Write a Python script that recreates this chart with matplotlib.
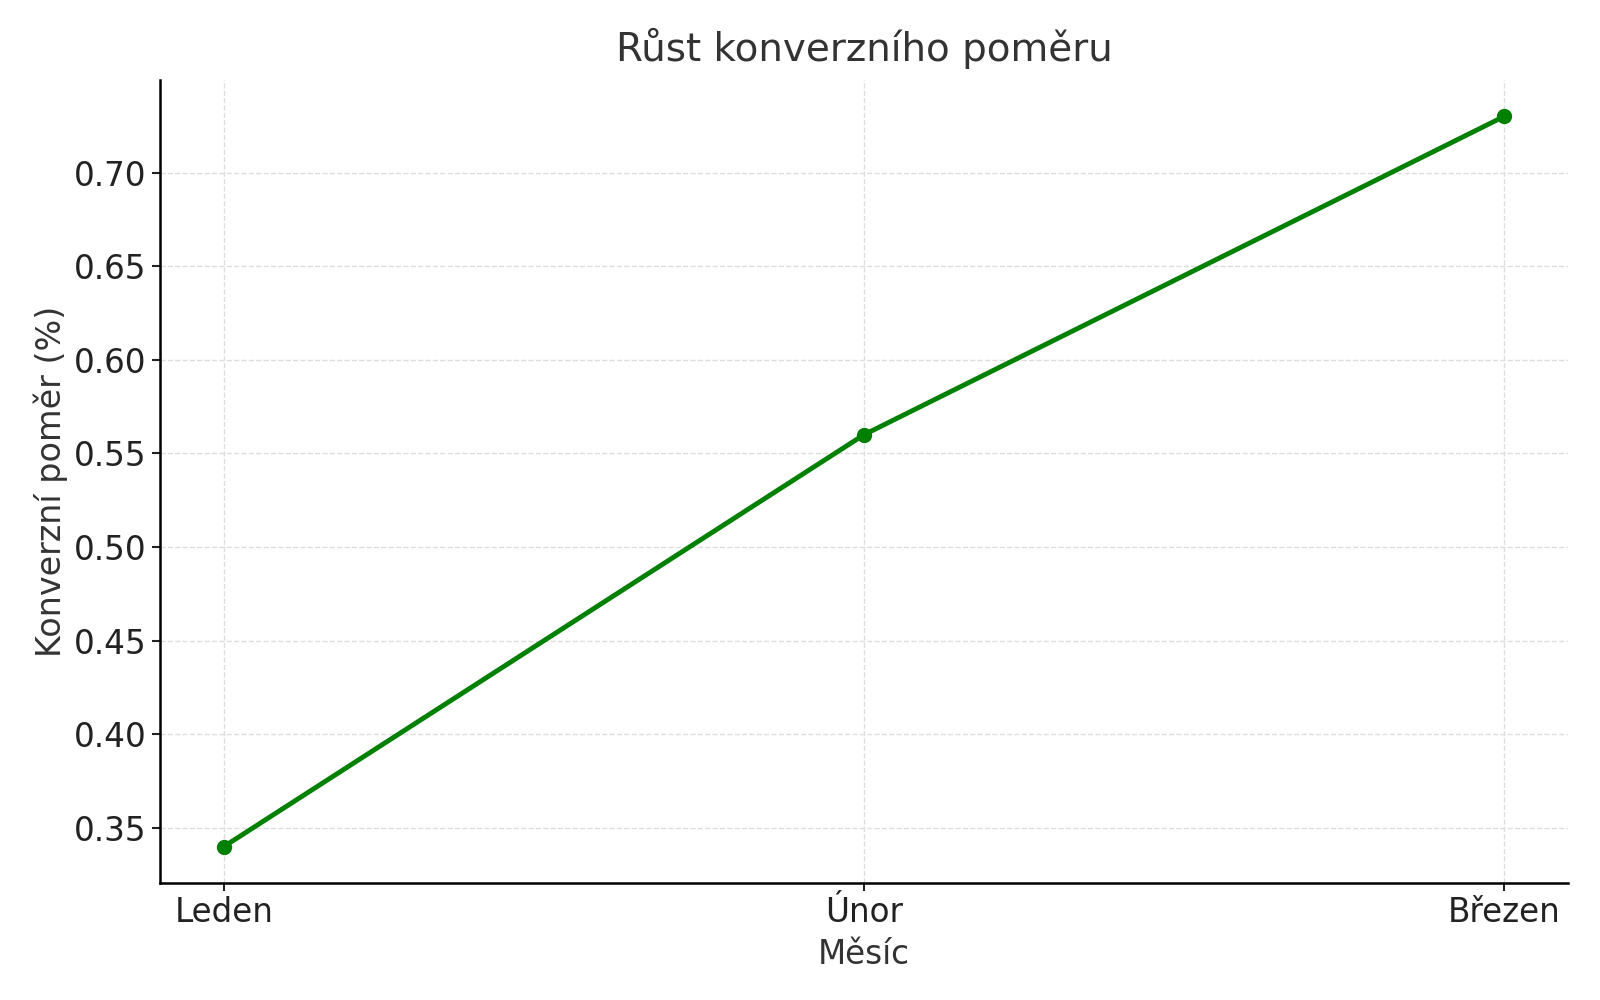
import matplotlib
matplotlib.use("Agg")
import matplotlib.pyplot as plt

# Data
mesice = ["Leden", "Únor", "Březen"]
konverze = [0.34, 0.56, 0.73]

fig, ax = plt.subplots(figsize=(16, 10), dpi=100)

ax.plot(mesice, konverze, color="green", marker="o", linewidth=3.5, markersize=10)

ax.set_title("Růst konverzního poměru", fontsize=28, color="#333333", pad=14)
ax.set_xlabel("Měsíc", fontsize=23.5, color="#333333", labelpad=6)
ax.set_ylabel("Konverzní poměr (%)", fontsize=24, color="#333333")
ax.tick_params(axis="both", labelsize=23.5, colors="#222222", length=6, width=1.5)

ax.grid(True, linestyle="--", color="#dddddd", linewidth=1)
ax.spines["top"].set_visible(False)
ax.spines["right"].set_visible(False)
ax.spines["left"].set_linewidth(1.8)
ax.spines["bottom"].set_linewidth(1.8)

plt.subplots_adjust(left=0.1, right=0.98, top=0.92, bottom=0.117)
plt.savefig("out.png")
